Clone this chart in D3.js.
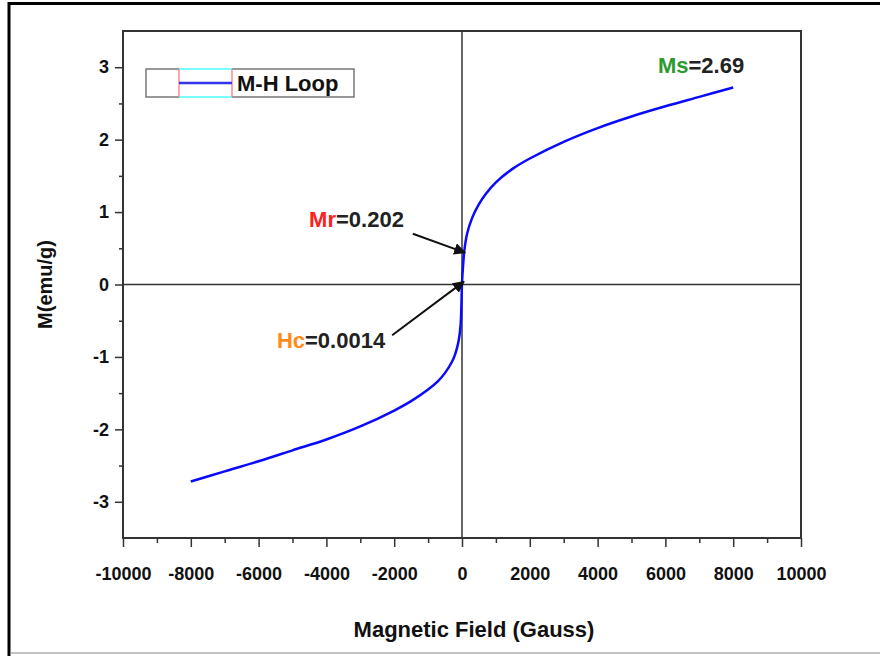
<!DOCTYPE html>
<html>
<head>
<meta charset="utf-8">
<script src="https://cdn.jsdelivr.net/npm/d3@7"></script>
<style>
  body { margin: 0; background: #fff; }
  svg { display: block; font-family: "Liberation Sans", Arial, sans-serif; }
</style>
</head>
<body>
<div id="chart"></div>
<script>
var fieldH = [-8000, -7000, -6000, -5000, -4000, -3000, -2000, -1500, -1000, -700, -500, -300, -200, -100, -40, 0, 30, 70, 150, 300, 500, 700, 1000, 1500, 2000, 3000, 4000, 5000, 6000, 7000, 8000];
var magM = [-2.72, -2.58, -2.44, -2.29, -2.14, -1.96, -1.74, -1.61, -1.45, -1.33, -1.22, -1.07, -0.96, -0.78, -0.55, 0.02, 0.25, 0.47, 0.70, 0.92, 1.11, 1.25, 1.41, 1.60, 1.74, 1.97, 2.16, 2.32, 2.46, 2.59, 2.72];

var xTicks = [-10000, -8000, -6000, -4000, -2000, 0, 2000, 4000, 6000, 8000, 10000];
var xMinor = [-9000, -7000, -5000, -3000, -1000, 1000, 3000, 5000, 7000, 9000];
var yTicks = [-3, -2, -1, 0, 1, 2, 3];
var yMinor = [-2.5, -1.5, -0.5, 0.5, 1.5, 2.5];

var seriesName = "M-H Loop";
// annotations: coloured symbol, rest of label, where the text sits, arrow from/to (data units)
var notes = [
  { key: "Ms", rest: "=2.69", color: "#2e9a2e", h: 5780, m: 2.92 },
  { key: "Mr", rest: "=0.202", color: "#ff2020", h: -4510, m: 0.79, from: [-1450, 0.70], to: [88, 0.44] },
  { key: "Hc", rest: "=0.0014", color: "#ff8c1a", h: -5460, m: -0.87, from: [-2060, -0.70], to: [55, 0.04] }
];

var W = 880, H = 656;
var margin = {top: 31, right: 79, bottom: 118, left: 123};
var width = W - margin.left - margin.right,
    height = H - margin.top - margin.bottom;

var svg = d3.select("#chart").append("svg")
    .attr("width", W)
    .attr("height", H);

// outer picture frame
svg.append("line").attr("x1", 8).attr("x2", W).attr("y1", 3.5).attr("y2", 3.5)
    .attr("stroke", "#000").attr("stroke-width", 3);
svg.append("line").attr("x1", 9).attr("x2", 9).attr("y1", 2).attr("y2", H)
    .attr("stroke", "#000").attr("stroke-width", 3);
svg.append("line").attr("x1", 10).attr("x2", W).attr("y1", 653).attr("y2", 653)
    .attr("stroke", "#888").attr("stroke-width", 1);

var g = svg.append("g")
    .attr("transform", "translate(" + margin.left + "," + margin.top + ")");

var x = d3.scaleLinear().domain([-10000, 10000]).range([0, width]);
var y = d3.scaleLinear().domain([-3.5, 3.5]).range([height, 0]);

var axisColor = "#333";
var plain = function(d) { return String(d); }; // hyphen minus like the original

// minor ticks
g.append("g")
    .attr("transform", "translate(0," + height + ")")
    .call(d3.axisBottom(x).tickValues(xMinor).tickSize(5).tickFormat(""))
    .call(function(s) { s.select(".domain").remove(); s.selectAll("line").attr("stroke", axisColor).attr("stroke-width", 1.5); });
g.append("g")
    .call(d3.axisLeft(y).tickValues(yMinor).tickSize(4).tickFormat(""))
    .call(function(s) { s.select(".domain").remove(); s.selectAll("line").attr("stroke", axisColor).attr("stroke-width", 1.5); });

// major ticks
var xa = g.append("g")
    .attr("transform", "translate(0," + height + ")")
    .call(d3.axisBottom(x).tickValues(xTicks).tickSize(9).tickPadding(20).tickFormat(plain));
xa.select(".domain").remove();
xa.selectAll("line").attr("stroke", axisColor).attr("stroke-width", 1.5);
xa.selectAll("text").attr("fill", "#111").style("font-size", "18px").style("font-weight", "bold");

var ya = g.append("g")
    .call(d3.axisLeft(y).tickValues(yTicks).tickSize(8).tickPadding(6).tickFormat(plain));
ya.select(".domain").remove();
ya.selectAll("line").attr("stroke", axisColor).attr("stroke-width", 1.5);
ya.selectAll("text").attr("fill", "#111").style("font-size", "18px").style("font-weight", "bold");

// plot frame and zero lines
g.append("rect").attr("width", width).attr("height", height)
    .attr("fill", "none").attr("stroke", axisColor).attr("stroke-width", 2);
g.append("line").attr("x1", x(0)).attr("x2", x(0)).attr("y1", 0).attr("y2", height)
    .attr("stroke", axisColor).attr("stroke-width", 1.5);
g.append("line").attr("x1", 0).attr("x2", width).attr("y1", y(0)).attr("y2", y(0))
    .attr("stroke", axisColor).attr("stroke-width", 1.5);

// the loop
var pts = fieldH.map(function(h, i) { return [h, magM[i]]; });
var line = d3.line()
    .x(function(d) { return x(d[0]); })
    .y(function(d) { return y(d[1]); })
    .curve(d3.curveCatmullRom.alpha(0.5));
g.append("path").datum(pts)
    .attr("d", line)
    .attr("fill", "none")
    .attr("stroke", "#0a0aff")
    .attr("stroke-width", 2.5)
    .attr("stroke-linejoin", "round");

// arrows
var defs = svg.append("defs");
defs.append("marker")
    .attr("id", "arr")
    .attr("viewBox", "0 0 10 10")
    .attr("refX", 9).attr("refY", 5)
    .attr("markerWidth", 6).attr("markerHeight", 6)
    .attr("orient", "auto")
  .append("path").attr("d", "M0,0 L10,5 L0,10 z").attr("fill", "#111");

notes.forEach(function(n) {
    var t = g.append("text")
        .attr("x", x(n.h)).attr("y", y(n.m))
        .style("font-size", "22px").style("font-weight", "bold");
    t.append("tspan").attr("fill", n.color).text(n.key);
    t.append("tspan").attr("fill", "#222").text(n.rest);
    if (n.from) {
        g.append("line")
            .attr("x1", x(n.from[0])).attr("y1", y(n.from[1]))
            .attr("x2", x(n.to[0])).attr("y2", y(n.to[1]))
            .attr("stroke", "#111").attr("stroke-width", 2)
            .attr("marker-end", "url(#arr)");
    }
});

// legend
var lg = svg.append("g").attr("transform", "translate(146,69)");
lg.append("rect").attr("width", 208).attr("height", 28)
    .attr("fill", "#fff").attr("stroke", "#777").attr("stroke-width", 1.5);
lg.append("line").attr("x1", 33).attr("x2", 86).attr("y1", 0).attr("y2", 0).attr("stroke", "#7ff").attr("stroke-width", 2);
lg.append("line").attr("x1", 33).attr("x2", 86).attr("y1", 28).attr("y2", 28).attr("stroke", "#7ff").attr("stroke-width", 2);
lg.append("line").attr("x1", 33).attr("x2", 33).attr("y1", 0).attr("y2", 28).attr("stroke", "#f88").attr("stroke-width", 1.5);
lg.append("line").attr("x1", 86).attr("x2", 86).attr("y1", 0).attr("y2", 28).attr("stroke", "#f88").attr("stroke-width", 1.5);
lg.append("line").attr("x1", 33).attr("x2", 86).attr("y1", 14).attr("y2", 14).attr("stroke", "#3333ee").attr("stroke-width", 2.5);
lg.append("text").attr("x", 91).attr("y", 22)
    .style("font-size", "22px").style("font-weight", "bold").attr("fill", "#111")
    .text(seriesName);

// axis titles
svg.append("text")
    .attr("x", 474).attr("y", 637)
    .attr("text-anchor", "middle")
    .style("font-size", "22px").style("font-weight", "bold").attr("fill", "#111")
    .text("Magnetic Field (Gauss)");
svg.append("text")
    .attr("transform", "translate(52," + (margin.top + y(0)) + ") rotate(-90)")
    .attr("text-anchor", "middle")
    .style("font-size", "20px").style("font-weight", "bold").attr("fill", "#111")
    .text("M(emu/g)");
</script>
</body>
</html>
